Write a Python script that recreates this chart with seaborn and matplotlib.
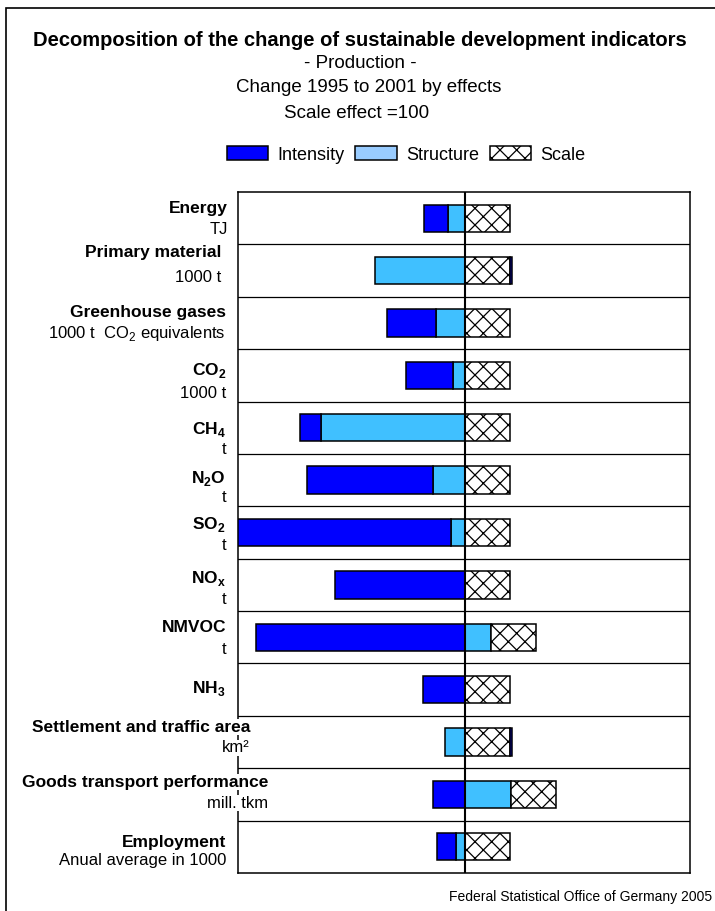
import matplotlib
matplotlib.use("Agg")
import matplotlib.pyplot as plt
import numpy as np
import pandas as pd
import seaborn as sns
from matplotlib.patches import Patch, Rectangle

# data (scale effect = 100)
indicators = ["Energy", "Primary material", "Greenhouse gases", "CO2", "CH4",
              "N2O", "SO2", "NOx", "NMVOC", "NH3",
              "Settlement and traffic area", "Goods transport performance",
              "Employment"]
bold_labels = ["Energy", "Primary material", "Greenhouse gases", r"CO$_\mathbf{2}$",
               r"CH$_\mathbf{4}$", r"N$_\mathbf{2}$O", r"SO$_\mathbf{2}$",
               r"NO$_\mathbf{x}$", "NMVOC", r"NH$_\mathbf{3}$",
               "Settlement and traffic area", "Goods transport performance",
               "Employment"]
unit_labels = ["TJ", "1000 t", r"1000 t  CO$_2$ equivalents", "1000 t", "t", "t",
               "t", "t", "t", "", "km²", "mill. tkm", "Anual average in 1000"]
intensity = [-54, 5, -109, -104, -46, -280, -480, -289, -465, -93, 5, -72, -42]
structure = [-38, -200, -65, -27, -321, -72, -32, 0, 58, 0, -44, 102, -21]
scale = [100, 100, 100, 100, 100, 100, 100, 100, 100, 100, 100, 100, 100]

sns.set_style("white")
plt.rcParams["font.family"] = ["Liberation Sans", "DejaVu Sans"]
plt.rcParams["text.color"] = "black"
plt.rcParams["mathtext.fontset"] = "custom"
plt.rcParams["mathtext.rm"] = "Liberation Sans"
plt.rcParams["mathtext.bf"] = "Liberation Sans:bold"
plt.rcParams["hatch.linewidth"] = 0.9

W, H = 715, 911
fig = plt.figure(figsize=(W / 100, H / 100), dpi=100)
ax = fig.add_axes([238 / W, 1 - 873 / H, (690 - 238) / W, (873 - 192) / H])

# stack: structure next to zero, then scale, then intensity
pos = np.zeros(len(indicators))
neg = np.zeros(len(indicators))
series = [("Structure", structure, dict(color="#40C0FF")),
          ("Scale", scale, dict(color="white", hatch="xx")),
          ("Intensity", intensity, dict(color="#0000FF"))]
for name, vals, style in series:
    vals = np.array(vals, dtype=float)
    left = np.where(vals >= 0, pos, neg)
    df = pd.DataFrame({"indicator": indicators, "value": vals})
    sns.barplot(data=df, x="value", y="indicator", order=indicators, ax=ax,
                left=left, width=0.52, errorbar=None, edgecolor="black",
                linewidth=1.1, saturation=1, zorder=2, **style)
    pos = pos + np.clip(vals, 0, None)
    neg = neg + np.clip(vals, None, 0)

ax.set_xlim(-505, 500)
ax.set_ylim(len(indicators) - 0.5, -0.5)
for yb in np.arange(0.5, len(indicators) - 0.5, 1):
    ax.axhline(yb, color="black", lw=0.9, zorder=1)
ax.axvline(0, color="black", lw=1.5, zorder=4)
ax.set_xticks([])
ax.set_yticks([])
ax.set_xlabel("")
ax.set_ylabel("")
for s in ax.spines.values():
    s.set_color("black")
    s.set_linewidth(1.1)

# row labels (pixel positions of the text in the original layout)
label_right = [228, 221, 226, 226, 226, 226, 226, 226, 226, 226, 250, 268, 226]
bold_y = [208, 252, 313, 370, 430, 478, 525, 578, 628, 688, 727, 782, 843]
unit_y = [229, 277, 333, 393, 450, 497, 545, 600, 650, 0, 748, 803, 861]
for i in range(len(indicators)):
    fig.text(label_right[i] / W, 1 - bold_y[i] / H, bold_labels[i], ha="right",
             va="center", fontsize=12.5, fontweight="bold",
             bbox=dict(facecolor="white", edgecolor="none", pad=0.5), zorder=5)
    if unit_labels[i]:
        fig.text(label_right[i] / W, 1 - unit_y[i] / H, unit_labels[i], ha="right",
                 va="center", fontsize=12,
                 bbox=dict(facecolor="white", edgecolor="none", pad=0.5), zorder=5)

# titles
fig.text(360 / W, 1 - 40 / H,
         "Decomposition of the change of sustainable development indicators",
         ha="center", va="center", fontsize=14.5, fontweight="bold")
fig.text(360 / W, 1 - 63 / H, "- Production -", ha="center", va="center", fontsize=13.5)
fig.text(369 / W, 1 - 87 / H, "Change 1995 to 2001 by effects", ha="center",
         va="center", fontsize=13.5)
fig.text(357 / W, 1 - 114 / H, "Scale effect =100", ha="center", va="center",
         fontsize=13.5)

handles = [Patch(facecolor="#0000FF", edgecolor="black", linewidth=1.1),
           Patch(facecolor="#99CCFF", edgecolor="black", linewidth=1.1),
           Patch(facecolor="white", edgecolor="black", linewidth=1.1, hatch="xx")]
fig.legend(handles, ["Intensity", "Structure", "Scale"], loc="center",
           bbox_to_anchor=(406 / W, 1 - 155 / H), ncol=3, frameon=False,
           fontsize=13, handlelength=2.3, handleheight=0.8, handletextpad=0.5,
           columnspacing=0.6)

fig.text(712 / W, 1 - 897 / H, "Federal Statistical Office of Germany 2005",
         ha="right", va="center", fontsize=10)

fig.patches.append(Rectangle((6 / W, -0.05), 1.2, 1 - 8 / H + 0.05,
                             transform=fig.transFigure, fill=False,
                             edgecolor="black", linewidth=1.2))

fig.savefig("out.png", dpi=100)
